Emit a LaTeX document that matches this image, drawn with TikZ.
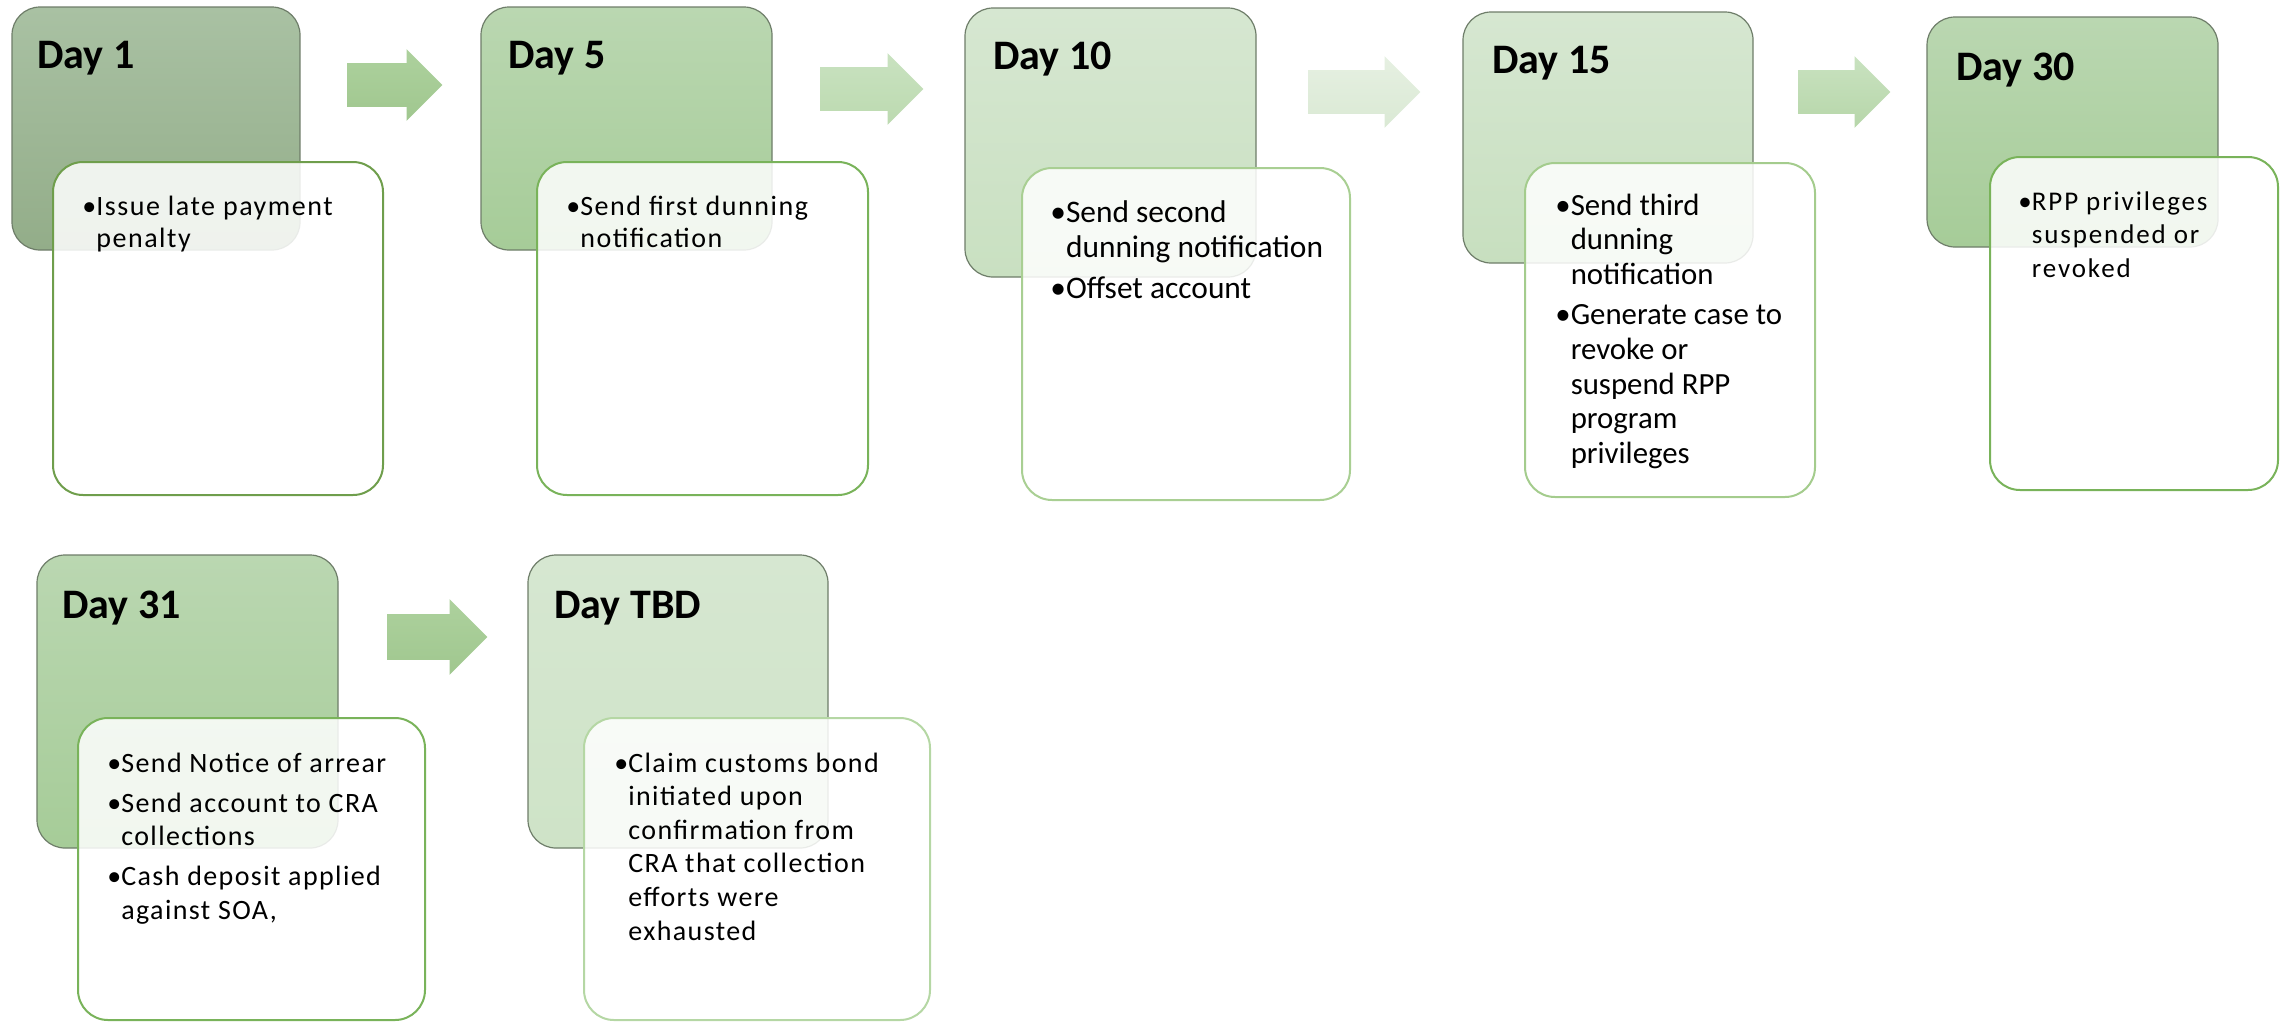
\documentclass[tikz,border=0pt]{standalone}
\usepackage{fontspec}
\setmainfont{Carlito}
\usetikzlibrary{shapes.arrows, positioning, calc}
\definecolor{boxedge}{HTML}{6E7D69}
\definecolor{grayTop}{HTML}{A9C1A3}
\definecolor{grayBot}{HTML}{93AD89}
\definecolor{midTop}{HTML}{BAD7B1}
\definecolor{midBot}{HTML}{A6CC98}
\definecolor{paleTop}{HTML}{D6E7D1}
\definecolor{paleBot}{HTML}{C9E0C1}
\definecolor{edgeDark}{HTML}{6F9E4C}
\definecolor{edgeMid}{HTML}{79B35A}
\definecolor{edgePale}{HTML}{A9CF93}
\definecolor{edgeFaint}{HTML}{B5D7A4}
\definecolor{arrowMidTop}{HTML}{ADD19D}
\definecolor{arrowMidBot}{HTML}{A0C78F}
\definecolor{arrowPaleTop}{HTML}{C9E2C0}
\definecolor{arrowPaleBot}{HTML}{BCDAB0}
\definecolor{arrowFaintTop}{HTML}{E6F0E2}
\definecolor{arrowFaintBot}{HTML}{DAE9D4}
\newlength{\bulletw}
\newcommand{\bitem}[1]{\par\hangindent=\bulletw\hangafter=1\noindent\makebox[\bulletw][l]{\textbullet}#1}
\newcommand{\notelist}[1]{\parbox[t]{170pt}{\raggedright\settowidth{\bulletw}{\textbullet}\parskip=3pt #1}}
\tikzset{
  daybox/.style={rounded corners=14pt, draw=boxedge, line width=0.6pt},
  notebox/.style={rounded corners=15pt, fill=white, fill opacity=0.85, line width=1pt},
  dayhead/.style={anchor=base west, inner sep=0pt, font=\fontsize{21}{25}\selectfont\bfseries},
  notetext/.style={anchor=base west, inner sep=0pt,
                   font=\fontsize{14}{16}\selectfont\addfontfeature{LetterSpace=5.5}},
  notewide/.style={anchor=base west, inner sep=0pt, font=\fontsize{15.7}{17.5}\selectfont},
  steparrow/.style={single arrow, anchor=tail, inner xsep=0pt, inner ysep=10.75pt,
                    single arrow head extend=7pt, minimum height=48pt},
}

\begin{document}
\begin{tikzpicture}[x=0.5pt, y=-0.5pt]
  \useasboundingbox (0,0) rectangle (2290,1023);

  % first row
  \node[daybox, top color=grayTop, bottom color=grayBot, minimum width=144pt, minimum height=121.5pt] (day1) at (156,128.5) {};
  \node[dayhead] (day1head) at (37,68) {Day 1};
  \node[notebox, draw=edgeDark, minimum width=165pt, minimum height=166.5pt] (day1note) at (218,328.5) {};
  \node[notetext] (day1text) at (82,215) {\notelist{\bitem{Issue late payment\newline penalty}}};

  \node[steparrow, top color=arrowMidTop, bottom color=arrowMidBot, minimum height=47.5pt] (arrow1) at (347,85) {};

  \node[daybox, top color=midTop, bottom color=midBot, minimum width=145.5pt, minimum height=121.5pt] (day5) at (626.5,128.5) {};
  \node[dayhead] (day5head) at (508,68) {Day 5};
  \node[notebox, draw=edgeMid, minimum width=165.5pt, minimum height=166.5pt] (day5note) at (702.5,328.5) {};
  \node[notetext] (day5text) at (566,215) {\notelist{\bitem{Send first dunning\newline notification}}};

  \node[steparrow, top color=arrowPaleTop, bottom color=arrowPaleBot, minimum height=51.5pt] (arrow2) at (820,89) {};

  \node[daybox, top color=paleTop, bottom color=paleBot, minimum width=145.5pt, minimum height=134.5pt] (day10) at (1110.5,142.5) {};
  \node[dayhead] (day10head) at (993,69) {Day 10};
  \node[notebox, draw=edgePale, minimum width=164pt, minimum height=166pt] (day10note) at (1186,334) {};
  \node[notewide] (day10text) at (1050,222)
    {\notelist{\bitem{Send second\newline dunning notification}\bitem{Offset account}}};

  \node[steparrow, top color=arrowFaintTop, bottom color=arrowFaintBot, minimum height=56pt] (arrow3) at (1308,92) {};

  \node[daybox, top color=paleTop, bottom color=paleBot!95!midBot, minimum width=145pt, minimum height=125.5pt] (day15) at (1608,137.5) {};
  \node[dayhead] (day15head) at (1492,73) {Day 15};
  \node[notebox, draw=edgePale!90!edgeMid, minimum width=145pt, minimum height=167pt] (day15note) at (1670,330) {};
  \node[notewide, font=\fontsize{15.4}{17.3}\selectfont] (day15text) at (1555,215)
    {\notelist{\bitem{Send third\newline dunning\newline notification}\bitem{Generate case to\newline revoke or\newline suspend RPP\newline program\newline privileges}}};

  \node[steparrow, top color=arrowPaleTop, bottom color=arrowPaleBot!80!arrowMidBot, minimum height=46pt] (arrow4) at (1798,92) {};

  \node[daybox, top color=midTop, bottom color=midBot, minimum width=145.5pt, minimum height=115pt] (day30) at (2072.5,132) {};
  \node[dayhead] (day30head) at (1956,80) {Day 30};
  \node[notebox, draw=edgeMid, minimum width=144pt, minimum height=166.5pt] (day30note) at (2134,323.5) {};
  \node[notetext, font=\fontsize{13.5}{16.8}\selectfont\addfontfeature{LetterSpace=7}] (day30text) at (2018,210)
    {\notelist{\bitem{RPP privileges\newline suspended or\newline revoked}}};

  % second row
  \node[daybox, top color=midTop, bottom color=midBot, minimum width=150.5pt, minimum height=146.5pt] (day31) at (187.5,701.5) {};
  \node[dayhead] (day31head) at (62,618) {Day 31};
  \node[notebox, draw=edgeMid, minimum width=173.5pt, minimum height=151pt] (day31note) at (251.5,869) {};
  \node[notetext, font=\fontsize{14}{16.8}\selectfont\addfontfeature{LetterSpace=5}] (day31text) at (107,772)
    {\notelist{\parskip=3.2pt\bitem{Send Notice of arrear}\bitem{Send account to CRA\newline collections}\bitem{Cash deposit applied\newline against SOA,}}};

  \node[steparrow, top color=arrowMidTop, bottom color=arrowMidBot, inner ysep=11.25pt, single arrow head extend=7.5pt, minimum height=50pt] (arrow5) at (387,637) {};

  \node[daybox, top color=paleTop, bottom color=paleBot!90!white, minimum width=150pt, minimum height=146.5pt] (dayTBD) at (678,701.5) {};
  \node[dayhead] (dayTBDhead) at (554,618) {Day TBD};
  \node[notebox, draw=edgeFaint, minimum width=173pt, minimum height=151pt] (dayTBDnote) at (757,869) {};
  \node[notetext, font=\fontsize{14}{16.8}\selectfont\addfontfeature{LetterSpace=5}] (dayTBDtext) at (614,772)
    {\notelist{\bitem{Claim customs bond\newline initiated upon\newline confirmation from\newline CRA that collection\newline efforts were\newline exhausted}}};
\end{tikzpicture}
\end{document}
